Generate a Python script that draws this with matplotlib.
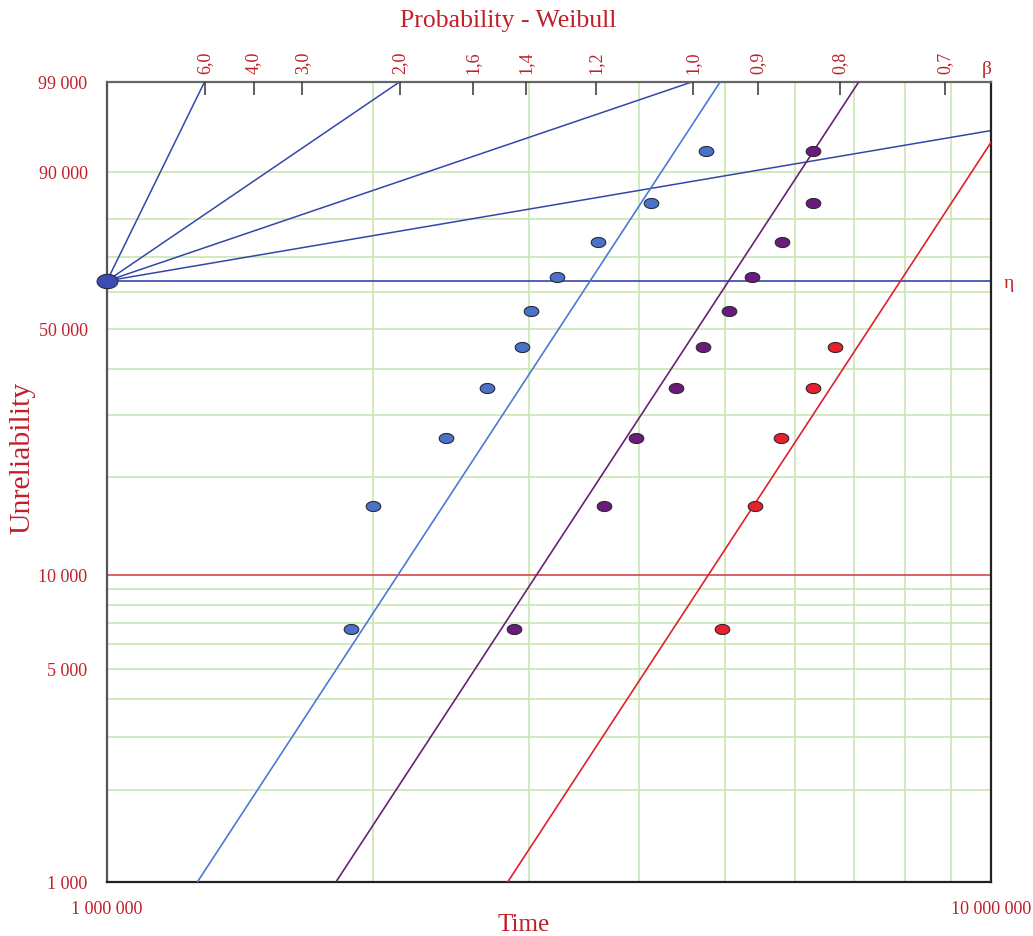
import numpy as np
import matplotlib
matplotlib.use('Agg')
import matplotlib.pyplot as plt
from matplotlib.path import Path

plt.rcParams['font.family'] = ['Liberation Serif', 'DejaVu Serif']

# --- datos ---
# Tiempos de falla (horas) y no fiabilidad (por 100 000)
rangos = [6730, 16350, 25960, 35580, 45190, 54810, 64420, 74040, 83650, 93270]

t_azul = [1.89e6, 2.00e6, 2.42e6, 2.69e6, 2.95e6, 3.02e6, 3.23e6, 3.59e6, 4.12e6, 4.76e6]
t_morado = [2.89e6, 3.65e6, 3.97e6, 4.40e6, 4.72e6, 5.05e6, 5.36e6, 5.80e6, 6.29e6, 6.29e6]
t_rojo = [4.96e6, 5.41e6, 5.79e6, 6.29e6, 6.66e6]
f_rojo = rangos[:5]

# Rectas de Weibull ajustadas (beta, eta)
beta_ajuste = 4.5
eta_azul = 3.52e6
eta_morado = 5.05e6
eta_rojo = 7.90e6

# Escala de pendientes (beta) en el borde superior
betas_escala = [6.0, 4.0, 3.0, 2.0, 1.6, 1.4, 1.2, 1.0, 0.9, 0.8, 0.7]
etiquetas_beta = ['6,0', '4,0', '3,0', '2,0', '1,6', '1,4', '1,2', '1,0', '0,9', '0,8', '0,7']
betas_guia = [6.0, 2.0, 1.0, 0.5]

# Rejilla y etiquetas del eje
rejilla_f = [2000, 3000, 4000, 5000, 6000, 7000, 8000, 9000,
             20000, 30000, 40000, 50000, 60000, 70000, 80000, 90000]
rejilla_t = [2e6, 3e6, 4e6, 5e6, 6e6, 7e6, 8e6, 9e6]
ticks_f = [1000, 5000, 10000, 50000, 90000, 99000]
etiquetas_f = ['1 000', '5 000', '10 000', '50 000', '90 000', '99 000']

T0 = 1e6
F_ETA = 1e5 * (1 - np.exp(-1))
ROJO_TXT = '#c0202a'


def weibull_fwd(v):
    p = np.clip(np.asarray(v, dtype=float) / 1e5, 1e-9, 1 - 1e-9)
    return np.log(-np.log(1 - p))


def weibull_inv(w):
    return 1e5 * (1 - np.exp(-np.exp(np.asarray(w, dtype=float))))


def no_fiabilidad(t, beta, eta):
    return 1e5 * (1 - np.exp(-(t / eta) ** beta))


# marcador eliptico
th = np.linspace(0, 2 * np.pi, 64)
elipse = Path(np.column_stack([1.45 * np.cos(th), np.sin(th)]), closed=True)

fig = plt.figure(figsize=(10.33, 9.37), dpi=100)
ax = fig.add_axes([107 / 1033, 54.5 / 937, 884 / 1033, 800 / 937])
ax.set_xscale('log')
ax.set_yscale('function', functions=(weibull_fwd, weibull_inv))
ax.set_xlim(1e6, 1e7)
ax.set_ylim(1000, 99000)

verde = '#c8e8b2'
for f in rejilla_f:
    ax.axhline(f, color=verde, lw=1.2, zorder=1)
for t in rejilla_t:
    ax.axvline(t, color=verde, lw=1.2, zorder=1)
ax.axhline(10000, color='#d04848', lw=1.2, zorder=2)

t = np.logspace(6, 7, 400)

# lineas guia desde el pivote
azul_osc = '#3447a8'
ax.axhline(F_ETA, color=azul_osc, lw=1.2, zorder=2)
for b in betas_guia:
    ax.plot(t, no_fiabilidad(t, b, T0), color=azul_osc, lw=1.1, zorder=2)

# rectas ajustadas
ax.plot(t, no_fiabilidad(t, beta_ajuste, eta_azul), color='#4a7ad6', lw=1.2, zorder=3)
ax.plot(t, no_fiabilidad(t, beta_ajuste, eta_morado), color='#6a1f7a', lw=1.2, zorder=3)
ax.plot(t, no_fiabilidad(t, beta_ajuste, eta_rojo), color='#e0202e', lw=1.2, zorder=3)

# puntos
ax.plot(t_azul, rangos, ls='none', marker=elipse, ms=10.5, mfc='#4a72c8',
        mec='#2a2a38', mew=0.8, zorder=5)
ax.plot(t_morado, rangos, ls='none', marker=elipse, ms=10.5, mfc='#6c1a7c',
        mec='#2a2a38', mew=0.8, zorder=5)
ax.plot(t_rojo, f_rojo, ls='none', marker=elipse, ms=10.5, mfc='#e8202a',
        mec='#2a2a38', mew=0.8, zorder=5)
ax.plot([T0], [F_ETA], ls='none', marker=elipse, ms=15, mfc='#3a4db4',
        mec='#2a2a38', mew=0.8, zorder=6, clip_on=False)

# ejes
ax.set_yticks(ticks_f)
ax.set_yticklabels(etiquetas_f)
ax.yaxis.set_minor_locator(matplotlib.ticker.NullLocator())
ax.set_xticks([1e6, 1e7])
ax.set_xticklabels(['1 000 000', '10 000 000'])
ax.xaxis.set_minor_locator(matplotlib.ticker.NullLocator())
ax.tick_params(axis='y', length=0, pad=14, labelsize=13, labelcolor=ROJO_TXT)
ax.tick_params(axis='x', length=0, pad=13, labelsize=13, labelcolor=ROJO_TXT)

ax.spines['left'].set_color('#555555')
ax.spines['left'].set_linewidth(1.6)
ax.spines['bottom'].set_color('#222222')
ax.spines['bottom'].set_linewidth(1.6)
ax.spines['right'].set_color('#222222')
ax.spines['right'].set_linewidth(1.6)
ax.spines['top'].set_color('#666666')
ax.spines['top'].set_linewidth(1.6)

# escala beta arriba
ax2 = ax.twiny()
ax2.set_xscale('log')
ax2.set_xlim(1e6, 1e7)
pos_beta = [T0 * (-np.log(0.01)) ** (1 / b) for b in betas_escala]
ax2.set_xticks(pos_beta)
ax2.set_xticklabels(etiquetas_beta, rotation=90)
ax2.xaxis.set_minor_locator(matplotlib.ticker.NullLocator())
ax2.tick_params(axis='x', direction='in', length=9, width=1.1, color='#333333',
                pad=6, labelsize=13, labelcolor=ROJO_TXT)
for s in ax2.spines.values():
    s.set_visible(False)

fig.text(508 / 1033, 1 - 21 / 937, 'Probability - Weibull', ha='center', va='center',
         fontsize=18.5, color=ROJO_TXT)
fig.text(524 / 1033, 1 - 925 / 937, 'Time', ha='center', va='center',
         fontsize=18, color=ROJO_TXT)
fig.text(22 / 1033, 1 - 458 / 937, 'Unreliability', ha='center', va='center',
         rotation=90, fontsize=21.5, color=ROJO_TXT)
fig.text(992 / 1033, 1 - 70 / 937, 'β', ha='right', va='center',
         fontsize=14, color=ROJO_TXT)
fig.text(1009 / 1033, 1 - 284 / 937, 'η', ha='center', va='center',
         fontsize=14, color=ROJO_TXT)

fig.savefig('out.png', dpi=100)
